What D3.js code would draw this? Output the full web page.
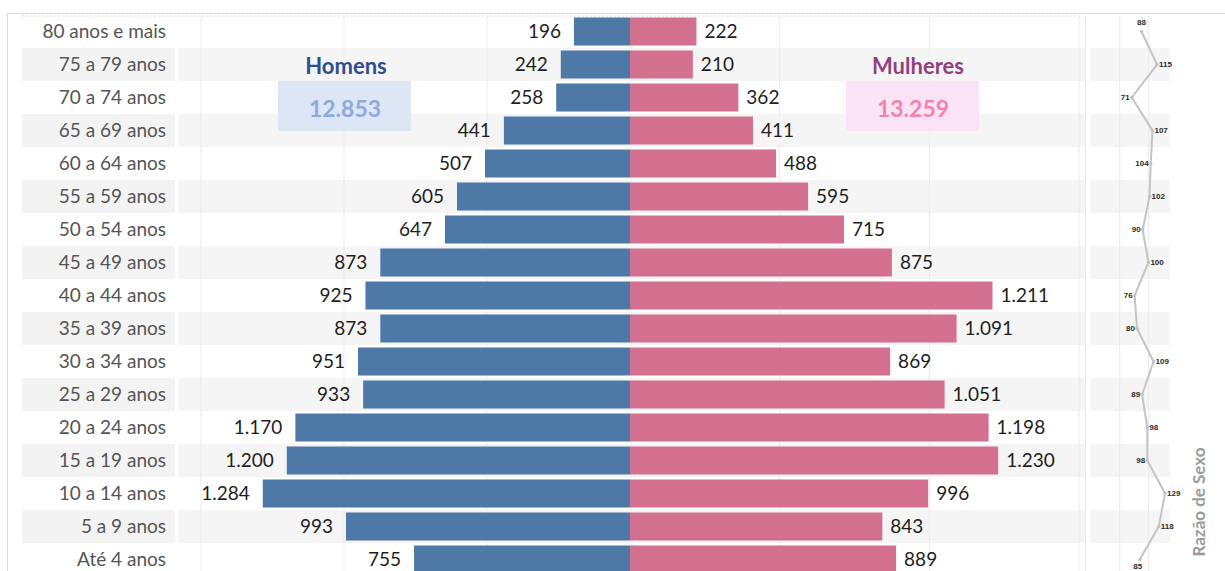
<!DOCTYPE html>
<html>
<head>
<meta charset="utf-8">
<script src="https://cdn.jsdelivr.net/npm/d3@7"></script>
<style>
  body { margin: 0; background: #fff; }
  svg { display: block; font-family: Lato, "Open Sans", sans-serif; }
</style>
</head>
<body>
<script>
// faixas etárias, de cima para baixo
const ages = ['80 anos e mais', '75 a 79 anos', '70 a 74 anos', '65 a 69 anos', '60 a 64 anos',
  '55 a 59 anos', '50 a 54 anos', '45 a 49 anos', '40 a 44 anos', '35 a 39 anos', '30 a 34 anos',
  '25 a 29 anos', '20 a 24 anos', '15 a 19 anos', '10 a 14 anos', '5 a 9 anos', 'Até 4 anos']
const men = [196, 242, 258, 441, 507, 605, 647, 873, 925, 873, 951, 933, 1170, 1200, 1284, 993, 755]
const women = [222, 210, 362, 411, 488, 595, 715, 875, 1211, 1091, 869, 1051, 1198, 1230, 996, 843, 889]
const ratio = [88, 115, 71, 107, 104, 102, 90, 100, 76, 80, 109, 89, 98, 98, 129, 118, 85]
const sexes = ['Homens', 'Mulheres']
const totals = [12853, 13259]

const width = 1225
const height = 571
const center = 630

const ptBR = d3.formatLocale({ decimal: ',', thousands: '.', grouping: [3], currency: ['R$', ''] })
const fmt = ptBR.format(',d')

const svg = d3.select('body').append('svg')
  .attr('width', width)
  .attr('height', height)

const y = d3.scaleBand().domain(ages).range([15, 15 + 33 * ages.length])
const xm = d3.scaleLinear().domain([0, 1500]).range([center, 201])
const xf = d3.scaleLinear().domain([0, 1500]).range([center, 1079])
const xr = d3.scaleLinear().domain([0, 140]).range([1091, 1171.4])
const mid = d => y(d) + y.bandwidth() / 2

// faixas alternadas
const stripes = svg.append('g')
ages.forEach(function (a, i) {
  if (i % 2 === 0) return
  stripes.append('rect').attr('x', 22).attr('y', y(a)).attr('width', 153).attr('height', y.bandwidth()).attr('fill', '#f3f3f3')
  stripes.append('rect').attr('x', 178).attr('y', y(a)).attr('width', 907).attr('height', y.bandwidth()).attr('fill', '#f5f5f5')
  stripes.append('rect').attr('x', 1090).attr('y', y(a)).attr('width', 80).attr('height', y.bandwidth()).attr('fill', '#f5f5f5')
})

// bordas
svg.append('line').attr('x1', 7).attr('x2', width).attr('y1', 13.5).attr('y2', 13.5).attr('stroke', '#dcdcdc')
svg.append('line').attr('x1', 7.5).attr('x2', 7.5).attr('y1', 13).attr('y2', height).attr('stroke', '#dcdcdc')
svg.append('line').attr('x1', 22).attr('x2', 1083).attr('y1', 16).attr('y2', 16)
  .attr('stroke', '#cfcfcf').attr('stroke-dasharray', '1.5,2.5')

// grades
const grid = svg.append('g').attr('stroke', '#ebebeb')
xm.ticks(3).filter(d => d > 0).forEach(function (t) {
  grid.append('line').attr('x1', xm(t)).attr('x2', xm(t)).attr('y1', 16).attr('y2', height)
  grid.append('line').attr('x1', xf(t)).attr('x2', xf(t)).attr('y1', 16).attr('y2', height)
})
grid.append('line').attr('x1', 1085.5).attr('x2', 1085.5).attr('y1', 16).attr('y2', height)
;[50, 100].forEach(function (t) {
  grid.append('line').attr('x1', xr(t)).attr('x2', xr(t)).attr('y1', 16).attr('y2', height)
})

// rótulos das idades
svg.append('g').selectAll('text').data(ages).enter().append('text')
  .attr('x', 166)
  .attr('y', d => mid(d) - 1)
  .attr('text-anchor', 'end')
  .attr('dominant-baseline', 'central')
  .attr('font-size', 19)
  .attr('fill', '#555')
  .text(d => d)

// barras
const barH = 28
const inset = (y.bandwidth() - barH) / 2
svg.append('g').selectAll('rect').data(men).enter().append('rect')
  .attr('x', d => xm(d))
  .attr('y', (d, i) => y(ages[i]) + inset)
  .attr('width', d => center - xm(d))
  .attr('height', barH)
  .attr('fill', '#4e79a7')
svg.append('g').selectAll('rect').data(women).enter().append('rect')
  .attr('x', center)
  .attr('y', (d, i) => y(ages[i]) + inset)
  .attr('width', d => xf(d) - center)
  .attr('height', barH)
  .attr('fill', '#d4708f')

// valores
svg.append('g').selectAll('text').data(men).enter().append('text')
  .attr('x', d => xm(d) - 13)
  .attr('y', (d, i) => mid(ages[i]) - 1)
  .attr('text-anchor', 'end')
  .attr('dominant-baseline', 'central')
  .attr('font-size', 19)
  .attr('fill', '#1e1e1e')
  .text(d => fmt(d))
svg.append('g').selectAll('text').data(women).enter().append('text')
  .attr('x', d => xf(d) + 8)
  .attr('y', (d, i) => mid(ages[i]) - 1)
  .attr('dominant-baseline', 'central')
  .attr('font-size', 19)
  .attr('fill', '#1e1e1e')
  .text(d => fmt(d))

// legendas / totais
const legend = [
  { cx: 345, title: '#2f4d8f', box: '#dce6f4', num: '#8eaadb' },
  { cx: 913, title: '#933f7e', box: '#fae3f4', num: '#f083b0' }
]
legend.forEach(function (l, i) {
  svg.append('text').attr('x', l.cx + (i ? 5 : 1)).attr('y', 65)
    .attr('text-anchor', 'middle').attr('dominant-baseline', 'central')
    .attr('font-size', 22).attr('font-weight', 'bold').attr('fill', l.title)
    .text(sexes[i])
  svg.append('rect').attr('x', l.cx - 67).attr('y', 81).attr('width', 133).attr('height', 50).attr('fill', l.box)
  svg.append('text').attr('x', l.cx).attr('y', 108)
    .attr('text-anchor', 'middle').attr('dominant-baseline', 'central')
    .attr('font-size', 23).attr('font-weight', 'bold').attr('fill', l.num)
    .text(fmt(totals[i]))
})

// razão de sexo
const cy = i => mid(ages[i])
const line = d3.line().x(d => xr(d)).y((d, i) => cy(i))
svg.append('path').datum(ratio)
  .attr('d', line)
  .attr('fill', 'none')
  .attr('stroke', '#c4c4c4')
  .attr('stroke-width', 2)
svg.append('g').selectAll('circle').data(ratio).enter().append('circle')
  .attr('cx', d => xr(d))
  .attr('cy', (d, i) => cy(i))
  .attr('r', 1.8)
  .attr('fill', '#c4c4c4')

const rlab = svg.append('g')
  .attr('font-family', '"Liberation Sans", Arial, sans-serif')
  .attr('font-size', 8)
  .attr('font-weight', 'bold')
  .attr('fill', '#2a2a2a')
ratio.forEach(function (v, i) {
  const t = rlab.append('text').text(v).attr('dominant-baseline', 'central')
  if (i === 0) {
    t.attr('x', xr(v)).attr('y', cy(i) - 9).attr('text-anchor', 'middle')
  } else if (i === ratio.length - 1) {
    t.attr('x', xr(v) - 2).attr('y', cy(i) + 7).attr('text-anchor', 'middle')
  } else {
    const right = v >= (ratio[i - 1] + ratio[i + 1]) / 2
    t.attr('x', xr(v) + (right ? 2 : -2))
      .attr('y', cy(i))
      .attr('text-anchor', right ? 'start' : 'end')
  }
})

svg.append('text')
  .attr('transform', 'translate(1198,502) rotate(-90)')
  .attr('text-anchor', 'middle')
  .attr('dominant-baseline', 'central')
  .attr('font-size', 17)
  .attr('font-weight', 'bold')
  .attr('fill', '#9b9b9b')
  .text('Razão de Sexo')
</script>
</body>
</html>
